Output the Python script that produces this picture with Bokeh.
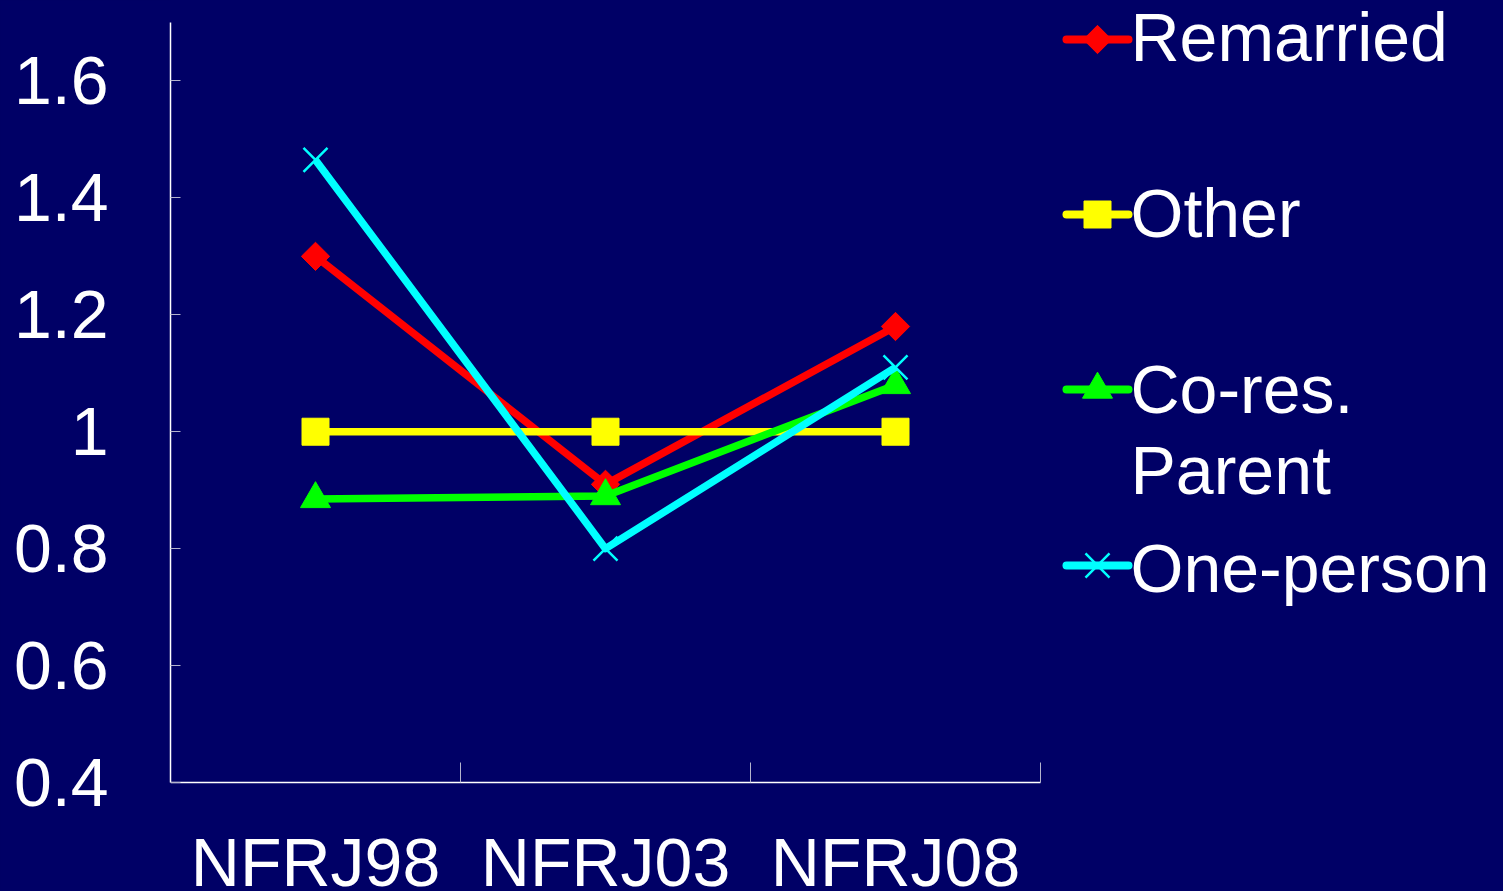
import math

from bokeh.core.properties import value
from bokeh.embed import file_html
from bokeh.models import CustomJSTickFormatter, FixedTicker, Range1d
from bokeh.plotting import figure
from bokeh.resources import INLINE

# Survey waves and the relative ratio for each household type
waves = ["NFRJ98", "NFRJ03", "NFRJ08"]
remarried = [1.30, 0.91, 1.18]
other = [1.00, 1.00, 1.00]
cores_parent = [0.885, 0.89, 1.08]
one_person = [1.465, 0.80, 1.11]

series_labels = ["Remarried", "Other", "Co-res.\nParent", "One-person"]
y_ticks = [0.4, 0.6, 0.8, 1.0, 1.2, 1.4, 1.6]
y_lo, y_hi = 0.4, 1.7

BG = "#000066"
FONT = "Liberation Sans"
TICK_GREY = "#b4b4cc"
W, H = 1503, 891

# Page geometry (pixels): the axes occupy x 170..1040, y 22..782.
# The plotting frame covers everything right of the y axis so that the
# category names and the legend can be drawn as ordinary glyphs.
LEFT, AXIS_RIGHT, AXIS_TOP, AXIS_BOTTOM = 170, 1040, 22, 782
cat_px = (AXIS_RIGHT - LEFT) / len(waves)
unit_px = (AXIS_BOTTOM - AXIS_TOP) / (y_hi - y_lo)
# SVG text glyphs land somewhat below the requested alphabetic baseline
TEXT_NUDGE = 25


def dx(px):
    """Pixel column -> x data value."""
    return (px - LEFT) / cat_px


def dy(py):
    """Pixel row -> y data value."""
    return y_lo + (AXIS_BOTTOM - py) / unit_px


def text_y(baseline_px):
    return dy(baseline_px - TEXT_NUDGE)


series = [
    dict(values=remarried, color="#ff0000", marker="square", size=20, angle=math.pi / 4, lw=1),
    dict(values=other, color="#ffff00", marker="square", size=27, angle=0, lw=1),
    dict(values=cores_parent, color="#00ff00", marker="triangle", size=30, angle=0, lw=1),
    dict(values=one_person, color="#00ffff", marker="x", size=34, angle=0, lw=2.5),
]

xs = [i + 0.5 for i in range(len(waves))]
bounds_x = list(range(1, len(waves) + 1))

p = figure(
    width=W, height=H,
    x_range=Range1d(0, dx(W)), y_range=Range1d(dy(H), dy(0)),
    output_backend="svg", toolbar_location=None,
    min_border_left=LEFT, min_border_right=0, min_border_top=0, min_border_bottom=0,
    background_fill_color=BG, border_fill_color=BG, outline_line_color=None,
)
p.grid.visible = False
p.xaxis.visible = False

# y axis: ticks point inward
p.yaxis.bounds = (y_lo, y_hi)
p.yaxis.ticker = FixedTicker(ticks=y_ticks)
p.yaxis.formatter = CustomJSTickFormatter(code="return Number(tick.toFixed(1)).toString()")
p.yaxis.axis_line_color = "white"
p.yaxis.axis_line_width = 1.5
p.yaxis.major_tick_in = 10
p.yaxis.major_tick_out = 0
p.yaxis.major_tick_line_color = TICK_GREY
p.yaxis.minor_tick_line_color = None
p.yaxis.major_label_standoff = 62
p.yaxis.major_label_text_font = FONT
p.yaxis.major_label_text_font_size = "68px"
p.yaxis.major_label_text_color = "white"

# category axis along y = y_lo: base line, boundary ticks and names
p.segment(x0=[0], y0=[y_lo], x1=[len(waves)], y1=[y_lo], line_color="white", line_width=1.5)
tick_len = 20 / unit_px
p.segment(x0=bounds_x, y0=[y_lo] * len(bounds_x), x1=bounds_x,
          y1=[y_lo + tick_len] * len(bounds_x), line_color=TICK_GREY, line_width=1)
p.text(x=xs, y=[text_y(886)] * len(xs), text=waves, text_font=value(FONT),
       text_font_size="68px", text_color="white",
       text_align="center", text_baseline="alphabetic")

for s in series:
    p.line(xs, s["values"], line_color=s["color"], line_width=7.5, line_join="round")
    p.scatter(xs, s["values"], marker=s["marker"], size=s["size"], angle=s["angle"],
              fill_color=s["color"], line_color=s["color"], line_width=s["lw"])

# Legend, laid out in pixels to the right of the axes
row_centres = [39, 214, 389, 565]
row_baselines = [61, 237, 413, 592]
line_step = 81
line_x0, line_x1, marker_x, text_x = 1066, 1128, 1097, 1130

for s, label, yc, yb in zip(series, series_labels, row_centres, row_baselines):
    p.line([dx(line_x0), dx(line_x1)], [dy(yc), dy(yc)], line_color=s["color"],
           line_width=8, line_cap="round")
    p.scatter([dx(marker_x)], [dy(yc)], marker=s["marker"], size=s["size"], angle=s["angle"],
              fill_color=s["color"], line_color=s["color"], line_width=s["lw"])
    parts = label.split("\n")
    p.text(x=[dx(text_x)] * len(parts),
           y=[text_y(yb + k * line_step) for k in range(len(parts))],
           text=parts, text_font=value(FONT), text_font_size="68px",
           text_color="white", text_baseline="alphabetic", text_align="left")

html = file_html(p, INLINE)
page_style = "<style>html, body { margin: 0; padding: 0; background: %s; }</style>" % BG
html = html.replace("</head>", page_style + "\n</head>", 1)
with open("out.html", "w") as f:
    f.write(html)
